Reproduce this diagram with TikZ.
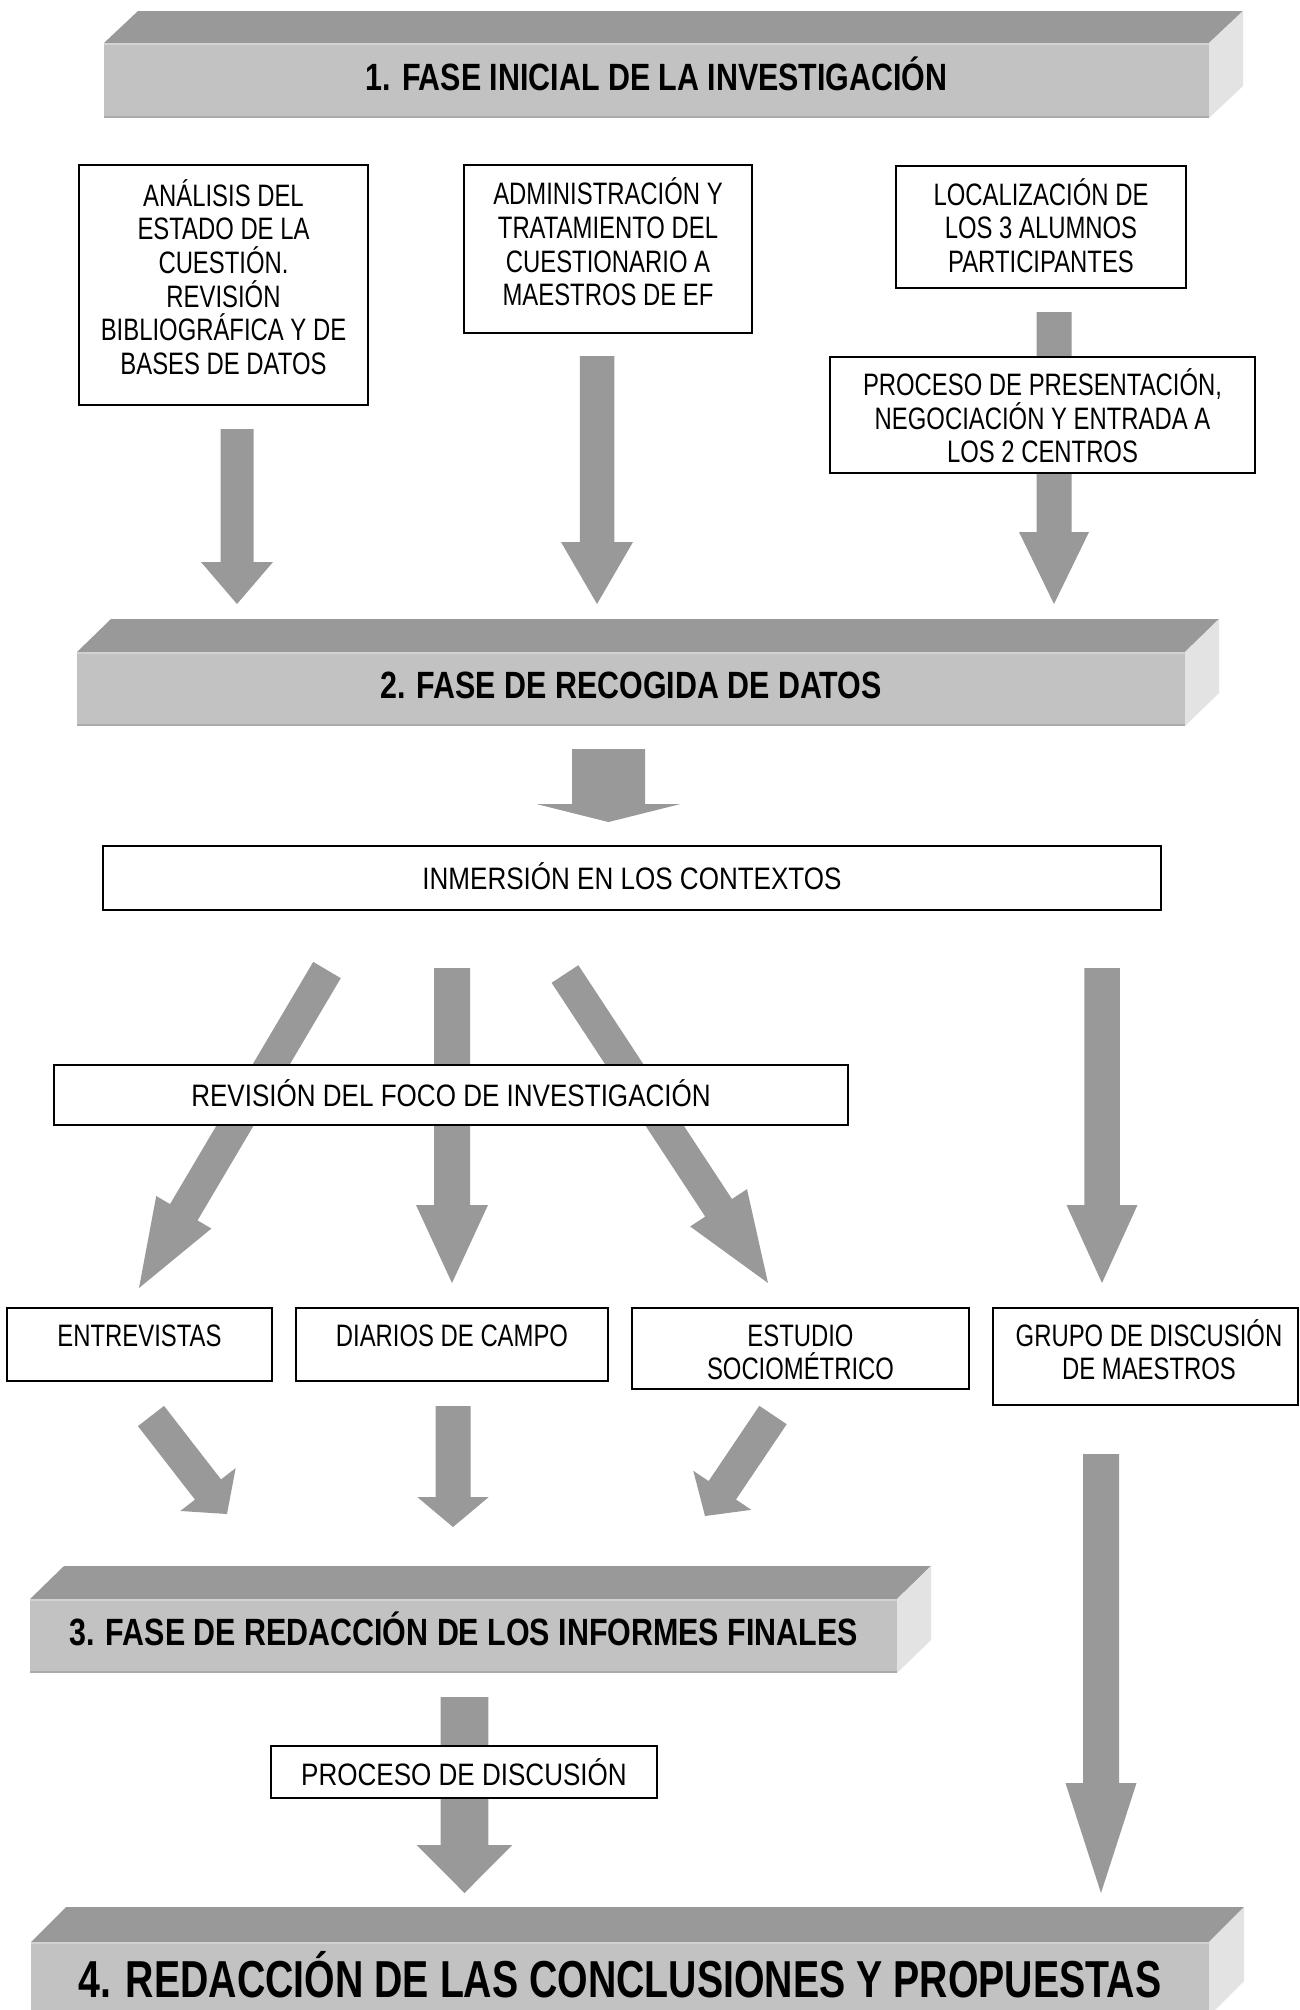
\documentclass[tikz,border=0pt]{standalone}
\usepackage{fontspec}
\setmainfont{Liberation Sans}
\newfontfamily\narrowA[FakeStretch=0.77]{Liberation Sans}
\newfontfamily\narrowB[FakeStretch=0.84]{Liberation Sans}
\newfontfamily\banfont[FakeStretch=0.80]{Liberation Sans}
\newfontfamily\banfourfont[FakeStretch=0.755]{Liberation Sans}
\usetikzlibrary{calc}
\definecolor{arrowgray}{HTML}{999999}
\definecolor{topgray}{HTML}{999999}
\definecolor{frontgray}{HTML}{C2C2C2}
\definecolor{sidegray}{HTML}{E3E3E3}
\definecolor{edgelight}{HTML}{D2D2D2}
\definecolor{edgedark}{HTML}{AAAAAA}
% block arrow: #1 tail, #2 tip, #3 shaft width, #4 head width, #5 head length (px)
\newcommand\blockarrow[5]{%
  \coordinate (ba-n) at ($(#2)!#5*0.5pt!(#1)$);
  \fill[arrowgray] ($(#1)!#3*0.25pt!90:(#2)$) -- ($(ba-n)!#3*0.25pt!90:(#2)$)
    -- ($(ba-n)!#4*0.25pt!90:(#2)$) -- (#2) -- ($(ba-n)!#4*0.25pt!-90:(#2)$)
    -- ($(ba-n)!#3*0.25pt!-90:(#2)$) -- ($(#1)!#3*0.25pt!-90:(#2)$) -- cycle;}
% banner faces: #1 name, #2 depth vector
\newcommand\bannerfaces[2]{%
  \fill[topgray] (#1.north west) -- ++(#2) -- ($(#1.north east)+(#2)$) -- (#1.north east) -- cycle;
  \fill[sidegray] (#1.north east) -- ++(#2) -- ($(#1.south east)+(#2)$) -- (#1.south east) -- cycle;
  \draw[edgelight, line width=1.2pt] ([yshift=-0.6pt]#1.north west) -- ([yshift=-0.6pt]#1.north east);
  \draw[edgedark, line width=1.2pt] ([yshift=0.6pt]#1.south west) -- ([yshift=0.6pt]#1.south east);}
\tikzset{
  box/.style={draw=black, line width=1pt, fill=white, inner sep=0pt, align=center},
  boxtext/.style={inner sep=0pt, align=center},
  topfont/.style={font=\narrowA\fontsize{15.5pt}{16.8pt}\selectfont},
  lowfont/.style={font=\narrowA\fontsize{15.5pt}{16.7pt}\selectfont},
  widefont/.style={font=\narrowB\fontsize{15.5pt}{17pt}\selectfont, text height=11.1pt, text depth=0pt},
  bannerfront/.style={fill=frontgray, draw=none, inner sep=0pt, outer sep=0pt,
    font=\banfont\bfseries\fontsize{19pt}{21pt}\selectfont, text height=9.6pt, text depth=0pt},
}
\begin{document}
\begin{tikzpicture}[x=0.5pt, y=-0.5pt]
\useasboundingbox (0,0) rectangle (1300,2010);
\clip (0,0) rectangle (1300,2010);
\fill[white] (0,0) rectangle (1300,2010);

% ---------- arrow end points ----------
\coordinate (aA-t) at (237,429);   \coordinate (aA-h) at (237,604);
\coordinate (aB-t) at (597,356);   \coordinate (aB-h) at (597,604);
\coordinate (aC-t) at (1054,312);  \coordinate (aC-h) at (1054,604);
\coordinate (aT-t) at (608.5,749); \coordinate (aT-h) at (608.5,822);
\coordinate (m1-t) at (327,970);   \coordinate (m1-h) at (139,1288);
\coordinate (m2-t) at (452,968);   \coordinate (m2-h) at (452,1283);
\coordinate (m3-t) at (565,974);   \coordinate (m3-h) at (768,1283);
\coordinate (m4-t) at (1102,968);  \coordinate (m4-h) at (1102,1283);
\coordinate (l1-t) at (151,1416);  \coordinate (l1-h) at (227,1514);
\coordinate (l2-t) at (453,1406);  \coordinate (l2-h) at (453,1527);
\coordinate (l3-t) at (773,1415);  \coordinate (l3-h) at (705,1516);
\coordinate (l4-t) at (1101,1454); \coordinate (l4-h) at (1101,1893);
\coordinate (l5-t) at (464.5,1697);\coordinate (l5-h) at (464.5,1893);

% ---------- arrows (behind boxes) ----------
\blockarrow{aA-t}{aA-h}{33}{72}{42}
\blockarrow{aB-t}{aB-h}{34.5}{72}{62}
\blockarrow{aC-t}{aC-h}{35}{70}{72}
\blockarrow{aT-t}{aT-h}{73}{144}{18}
\blockarrow{m1-t}{m1-h}{32}{64}{88}
\blockarrow{m2-t}{m2-h}{36}{72}{78}
\blockarrow{m3-t}{m3-h}{32}{68}{90}
\blockarrow{m4-t}{m4-h}{35.5}{71}{78}
\blockarrow{l1-t}{l1-h}{33}{70}{31}
\blockarrow{l2-t}{l2-h}{35}{71.5}{30}
\blockarrow{l3-t}{l3-h}{33}{70}{31}
\blockarrow{l4-t}{l4-h}{36}{71}{110}
\blockarrow{l5-t}{l5-h}{47.6}{95.7}{48}

% ---------- banners ----------
\node[bannerfront, minimum width=552.5pt, minimum height=37.5pt] (ban1) at (656.5,80.5)
  {1. FASE INICIAL DE LA INVESTIGACIÓN};
\bannerfaces{ban1}{34,-32}
\node[bannerfront, minimum width=554pt, minimum height=37pt] (ban2) at (631,689)
  {2. FASE DE RECOGIDA DE DATOS};
\bannerfaces{ban2}{34,-33}
\node[bannerfront, minimum width=433.5pt, minimum height=37pt] (ban3) at (463.5,1636)
  {3. FASE DE REDACCIÓN DE LOS INFORMES FINALES};
\bannerfaces{ban3}{34,-33}
\node[bannerfront, minimum width=589pt, minimum height=37pt, text height=18.6pt,
  font=\banfourfont\bfseries\fontsize{26pt}{28pt}\selectfont] (ban4) at (620,1979)
  {4. REDACCIÓN DE LAS CONCLUSIONES Y PROPUESTAS};
\bannerfaces{ban4}{35,-35}

% ---------- boxes ----------
\node[box, minimum width=144.5pt, minimum height=120pt] (boxA) at (223.5,285) {};
\node[boxtext, topfont] (boxA-text) at (223.5,277)
  {ANÁLISIS DEL\\ESTADO DE LA\\CUESTIÓN.\\REVISIÓN\\BIBLIOGRÁFICA Y DE\\BASES DE DATOS};
\node[box, minimum width=144.25pt, minimum height=84pt] (boxB) at (608,249) {};
\node[boxtext, topfont] (boxB-text) at (608,242)
  {ADMINISTRACIÓN Y\\TRATAMIENTO DEL\\CUESTIONARIO A\\MAESTROS DE EF};
\node[box, minimum width=145pt, minimum height=61pt] (boxC) at (1041,227) {};
\node[boxtext, topfont] (boxC-text) at (1041,225.5)
  {LOCALIZACIÓN DE\\LOS 3 ALUMNOS\\PARTICIPANTES};
\node[box, minimum width=212.5pt, minimum height=58pt] (boxD) at (1042.5,415) {};
\node[boxtext, topfont] (boxD-text) at (1042.5,416)
  {PROCESO DE PRESENTACIÓN,\\NEGOCIACIÓN Y ENTRADA A\\LOS 2 CENTROS};
\node[box, widefont, minimum width=529pt, minimum height=32pt] (inm) at (632,878)
  {INMERSIÓN EN LOS CONTEXTOS};
\node[box, widefont, minimum width=397pt, minimum height=30pt] (rev) at (451,1095)
  {REVISIÓN DEL FOCO DE INVESTIGACIÓN};
\node[box, lowfont, text height=11.1pt, text depth=9.6pt, minimum width=132.5pt, minimum height=36.5pt]
  (ent) at (139.5,1344.5) {ENTREVISTAS};
\node[box, lowfont, text height=11.1pt, text depth=9.6pt, minimum width=156pt, minimum height=36.5pt]
  (diar) at (452,1344.5) {DIARIOS DE CAMPO};
\node[box, minimum width=168.5pt, minimum height=40.5pt] (estu) at (800.5,1348.5) {};
\node[boxtext, lowfont] (estu-text) at (800.5,1352.5) {ESTUDIO\\SOCIOMÉTRICO};
\node[box, minimum width=152.5pt, minimum height=48.5pt] (grupo) at (1145.5,1356.5) {};
\node[boxtext, lowfont] (grupo-text) at (1149,1349.5) {GRUPO DE DISCUSIÓN\\DE MAESTROS};
\node[box, widefont, text height=13.7pt, minimum width=193pt, minimum height=26pt] (disc) at (464,1772)
  {PROCESO DE DISCUSIÓN};
\end{tikzpicture}
\end{document}
